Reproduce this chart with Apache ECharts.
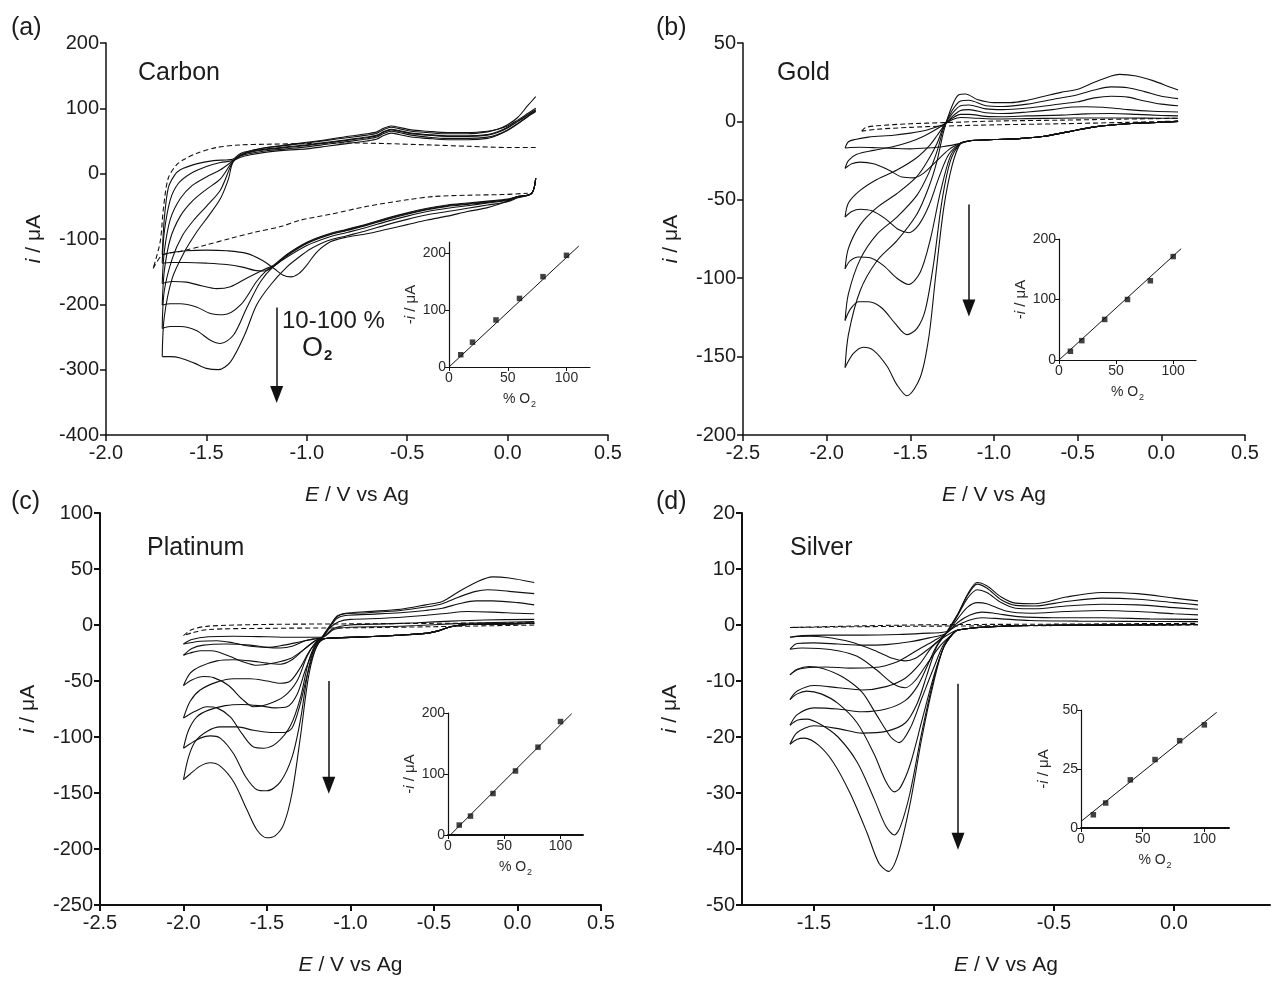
<!DOCTYPE html>
<html>
<head>
<meta charset="utf-8">
<script src="https://cdn.jsdelivr.net/npm/echarts@6.0.0/dist/echarts.min.js"></script>
<style>
  html, body { margin: 0; padding: 0; background: #fff; }
  #chart { width: 1273px; height: 982px; }
</style>
</head>
<body>
<div id="chart"></div>
<script>
// ---- (a) carbon: [E / V, i / uA], scan starts at the right end, vertex = most negative E
var carbonBlank = [[0.14,40],[0.0,40],[-0.2,42],[-0.4,44],[-0.6,46],[-0.8,47],[-1.0,46],[-1.2,45],[-1.33,44],[-1.45,40],[-1.55,31],[-1.61,22],[-1.65,13],[-1.69,-7],[-1.714,-53],[-1.73,-104],[-1.765,-145],
  [-1.72,-125],[-1.63,-119],[-1.5,-109],[-1.38,-99],[-1.25,-89],[-1.13,-81],[-1.03,-71],[-0.88,-62],[-0.7,-50],[-0.5,-40],[-0.37,-35],[-0.2,-33],[-0.03,-32],[0.1,-30]];
var carbon10 = [[0.14,-7],[0.12,-30],[0.05,-36],[0.0,-42],[-0.1,-52],[-0.2,-58],[-0.3,-65],[-0.4,-71],[-0.5,-78],[-0.6,-85],[-0.7,-92],[-0.8,-97],[-0.88,-104],[-0.95,-120],[-1.0,-140],[-1.04,-153],[-1.08,-158],[-1.12,-155],[-1.16,-146],[-1.22,-133],[-1.30,-122],[-1.40,-118],[-1.50,-117],[-1.60,-118],[-1.68,-121],[-1.72,-124],
  [-1.71,-70],[-1.69,-22],[-1.66,-3],[-1.63,6],[-1.55,15],[-1.465,20],[-1.40,21],[-1.37,22],[-1.33,31],[-1.28,35],[-1.2,40],[-1.1,43],[-1.0,47],[-0.9,51],[-0.8,55],[-0.7,59],[-0.65,62],[-0.62,67],[-0.58,71],[-0.54,69],[-0.48,65],[-0.4,63],[-0.3,61],[-0.2,61],[-0.1,64],[-0.05,68],[0.0,75],[0.05,86],[0.1,104],[0.14,118]];
var carbon20 = [[0.14,-7],[0.12,-30],[0.05,-35],[0.0,-40],[-0.1,-44],[-0.2,-47],[-0.3,-50],[-0.4,-55],[-0.5,-62],[-0.6,-70],[-0.7,-79],[-0.8,-87],[-0.9,-95],[-1.0,-107],[-1.1,-126],[-1.16,-141],[-1.21,-149],[-1.26,-148],[-1.32,-143],[-1.40,-139],[-1.50,-137],[-1.60,-136],[-1.68,-136],[-1.72,-137],
  [-1.71,-90],[-1.68,-40],[-1.64,-15],[-1.58,0],[-1.50,11],[-1.43,17],[-1.37,20],[-1.33,29],[-1.28,34],[-1.2,38],[-1.1,41],[-1.0,44],[-0.9,48],[-0.8,52],[-0.7,56],[-0.65,59],[-0.62,64],[-0.58,68],[-0.54,66],[-0.48,62],[-0.4,60],[-0.3,58],[-0.2,58],[-0.1,60],[-0.05,64],[0.0,71],[0.05,80],[0.1,90],[0.14,98]];
var carbon40 = [[0.14,-7],[0.12,-30],[0.05,-35],[0.0,-40],[-0.1,-43],[-0.2,-46],[-0.3,-49],[-0.4,-54],[-0.5,-61],[-0.6,-69],[-0.7,-78],[-0.8,-86],[-0.9,-94],[-1.0,-106],[-1.1,-124],[-1.165,-140],[-1.215,-147],[-1.30,-160],[-1.38,-173],[-1.45,-176],[-1.52,-172],[-1.60,-166],[-1.67,-165],[-1.72,-168],
  [-1.71,-120],[-1.68,-70],[-1.63,-38],[-1.57,-18],[-1.50,-5],[-1.43,6],[-1.37,19],[-1.33,27],[-1.28,31],[-1.2,35],[-1.1,38],[-1.0,41],[-0.9,45],[-0.8,49],[-0.7,53],[-0.65,56],[-0.62,61],[-0.58,65],[-0.54,63],[-0.48,59],[-0.4,56],[-0.3,54],[-0.2,54],[-0.1,56],[-0.05,60],[0.0,67],[0.05,77],[0.1,88],[0.14,96]];
var carbon60 = [[0.14,-7],[0.12,-30],[0.05,-35],[0.0,-39],[-0.1,-42],[-0.2,-45],[-0.3,-48],[-0.4,-53],[-0.5,-60],[-0.6,-68],[-0.7,-77],[-0.8,-85],[-0.9,-93],[-1.0,-105],[-1.1,-124],[-1.15,-138],[-1.20,-148],[-1.25,-165],[-1.33,-201],[-1.415,-216],[-1.48,-214],[-1.55,-204],[-1.63,-199],[-1.68,-199],[-1.72,-201],
  [-1.71,-150],[-1.68,-100],[-1.63,-65],[-1.57,-42],[-1.50,-24],[-1.43,-8],[-1.37,18],[-1.33,25],[-1.28,29],[-1.2,33],[-1.1,36],[-1.0,38],[-0.9,42],[-0.8,46],[-0.7,50],[-0.65,53],[-0.62,58],[-0.58,62],[-0.54,60],[-0.48,56],[-0.4,54],[-0.3,52],[-0.2,52],[-0.1,54],[-0.05,59],[0.0,66],[0.05,76],[0.1,87],[0.14,95]];
var carbon80 = [[0.14,-7],[0.12,-30],[0.05,-36],[0.0,-41],[-0.1,-45],[-0.2,-49],[-0.3,-53],[-0.4,-58],[-0.5,-65],[-0.6,-73],[-0.7,-82],[-0.8,-90],[-0.9,-98],[-1.0,-110],[-1.1,-128],[-1.165,-142],[-1.23,-165],[-1.30,-206],[-1.365,-247],[-1.43,-260],[-1.48,-255],[-1.55,-240],[-1.63,-234],[-1.68,-234],[-1.72,-237],
  [-1.71,-180],[-1.67,-130],[-1.62,-95],[-1.56,-70],[-1.50,-50],[-1.43,-25],[-1.37,17],[-1.33,28],[-1.28,33],[-1.2,37],[-1.1,40],[-1.0,43],[-0.9,47],[-0.8,51],[-0.7,55],[-0.65,58],[-0.62,63],[-0.58,67],[-0.54,65],[-0.48,61],[-0.4,59],[-0.3,57],[-0.2,57],[-0.1,59],[-0.05,63],[0.0,70],[0.05,80],[0.1,90],[0.14,97]];
var carbon100 = [[0.14,-7],[0.12,-30],[0.05,-37],[0.0,-43],[-0.1,-48],[-0.2,-53],[-0.3,-58],[-0.4,-63],[-0.5,-70],[-0.6,-78],[-0.7,-87],[-0.8,-95],[-0.9,-103],[-0.98,-115],[-1.04,-128],[-1.10,-143],[-1.18,-170],[-1.25,-201],[-1.31,-247],[-1.38,-288],[-1.44,-300],[-1.50,-298],[-1.56,-290],[-1.63,-282],[-1.68,-280],[-1.72,-280],
  [-1.71,-220],[-1.67,-160],[-1.61,-120],[-1.55,-90],[-1.49,-65],[-1.43,-38],[-1.39,-8],[-1.37,16],[-1.33,28],[-1.28,35],[-1.2,40],[-1.1,44],[-1.0,48],[-0.9,52],[-0.8,57],[-0.7,61],[-0.65,64],[-0.62,69],[-0.58,73],[-0.54,71],[-0.48,67],[-0.4,65],[-0.3,63],[-0.2,63],[-0.1,65],[-0.05,68],[0.0,73],[0.05,82],[0.1,92],[0.14,100]];

// ---- (b) gold
var goldBase = [[0.1,0],[0.0,-0.5],[-0.2,-1.5],[-0.4,-3.5],[-0.55,-6.5],[-0.7,-9.5],[-0.85,-11],[-1.0,-11.5],[-1.1,-12],[-1.15,-12.5],[-1.2,-14]];
var goldBlank = [[0.1,0.2],[-0.2,-0.6],[-0.6,-1.5],[-1.0,-2.2],[-1.3,-3],[-1.5,-3.8],[-1.7,-5],[-1.79,-6.2],[-1.77,-4],[-1.7,-2.8],[-1.5,-1.5],[-1.3,-0.8],[-1.0,0.2],[-0.6,0.8],[-0.2,1.5],[0.1,2]];
var gold10 = [[-1.3,-16],[-1.4,-17],[-1.5,-17.5],[-1.6,-17.2],[-1.7,-16.8],[-1.8,-16.5],[-1.86,-16.6],[-1.89,-17],
  [-1.87,-13],[-1.83,-11.5],[-1.75,-10],[-1.6,-8.8],[-1.5,-7.5],[-1.4,-5.5],[-1.33,-3],[-1.30,-2],[-1.25,1],[-1.2,2.5],[-1.1,2],[-1.0,1.5],[-0.8,1.8],[-0.6,2],[-0.4,2.2],[-0.2,2.2],[0.0,2],[0.1,2]];
var gold20 = [[-1.27,-18],[-1.35,-26],[-1.42,-33],[-1.48,-36],[-1.55,-35.5],[-1.63,-31],[-1.72,-27],[-1.80,-26],[-1.85,-27],[-1.89,-30],
  [-1.87,-25],[-1.82,-21],[-1.72,-18.5],[-1.6,-16],[-1.5,-13],[-1.42,-9.5],[-1.36,-6],[-1.30,-2],[-1.25,2],[-1.2,4.5],[-1.15,4.5],[-1.05,3.2],[-0.95,3],[-0.8,3.5],[-0.6,4],[-0.45,4.8],[-0.3,5],[-0.15,4.5],[0.0,3.8],[0.1,3.5]];
var gold40 = [[-1.27,-21],[-1.33,-36],[-1.39,-54],[-1.45,-66],[-1.51,-71],[-1.57,-69],[-1.65,-62],[-1.73,-57],[-1.80,-56],[-1.85,-57.5],[-1.89,-61],
  [-1.87,-52],[-1.80,-44],[-1.70,-37],[-1.58,-31],[-1.46,-23],[-1.39,-16],[-1.34,-9],[-1.30,-3],[-1.25,3],[-1.2,7],[-1.15,7.5],[-1.05,5.5],[-0.95,5],[-0.8,6],[-0.65,7.5],[-0.55,9],[-0.45,9.3],[-0.35,9],[-0.2,7.5],[-0.05,6.5],[0.1,6]];
var gold60 = [[-1.26,-22],[-1.32,-45],[-1.38,-75],[-1.44,-96],[-1.51,-104],[-1.58,-100],[-1.66,-92],[-1.74,-87],[-1.81,-86.5],[-1.86,-89],[-1.89,-94],
  [-1.87,-81],[-1.80,-66],[-1.70,-55],[-1.58,-46],[-1.46,-35],[-1.39,-24],[-1.34,-14],[-1.30,-3],[-1.25,5],[-1.2,10],[-1.15,10.5],[-1.05,8],[-0.95,7.5],[-0.8,8.5],[-0.65,10.5],[-0.5,12.5],[-0.4,15],[-0.3,16],[-0.2,15.5],[-0.1,13],[0.0,11],[0.1,10]];
var gold80 = [[-1.26,-25],[-1.31,-50],[-1.36,-90],[-1.41,-120],[-1.46,-132],[-1.52,-136],[-1.59,-129],[-1.67,-119],[-1.75,-115],[-1.81,-115],[-1.86,-120],[-1.89,-127],
  [-1.87,-110],[-1.80,-88],[-1.70,-72],[-1.58,-61],[-1.46,-47],[-1.39,-33],[-1.34,-19],[-1.30,-4],[-1.25,7],[-1.2,13],[-1.15,13.5],[-1.05,10],[-0.95,9.5],[-0.8,11],[-0.65,14],[-0.5,17],[-0.4,20],[-0.3,22],[-0.2,21.5],[-0.1,19],[0.0,16],[0.1,14.5]];
var gold100 = [[-1.25,-28],[-1.30,-55],[-1.35,-100],[-1.39,-138],[-1.44,-163],[-1.52,-175],[-1.58,-168],[-1.64,-156],[-1.72,-146],[-1.78,-144],[-1.84,-148],[-1.89,-157],
  [-1.87,-136],[-1.80,-108],[-1.70,-89],[-1.58,-76],[-1.46,-59],[-1.39,-42],[-1.34,-25],[-1.30,-6],[-1.25,10],[-1.21,17],[-1.17,17.5],[-1.1,14],[-1.0,12],[-0.9,12],[-0.8,13.5],[-0.7,16],[-0.6,18.5],[-0.5,20.5],[-0.4,25],[-0.3,29],[-0.25,30],[-0.15,29],[-0.05,26],[0.05,22],[0.1,20]];

// ---- (c) platinum
var ptBase = [[0.1,1.5],[-0.1,1],[-0.3,0.5],[-0.4,-1.5],[-0.47,-5],[-0.55,-7.5],[-0.7,-9],[-0.9,-10.5],[-1.1,-11.5],[-1.15,-12]];
var ptBlank = [[0.1,0],[-0.5,-1.5],[-1.0,-2.5],[-1.5,-3],[-1.85,-4],[-1.95,-7],[-2.0,-9.5],[-1.95,-4],[-1.85,-1],[-1.5,0.5],[-1.0,1],[-0.5,1.5],[0.1,2]];
var pt10 = [[-1.2,-12],[-1.3,-15],[-1.4,-18],[-1.5,-20],[-1.6,-19],[-1.7,-16],[-1.8,-14],[-1.9,-14.5],[-2.0,-17],
  [-1.95,-13],[-1.85,-10.5],[-1.7,-10],[-1.5,-10.5],[-1.35,-11],[-1.25,-11],[-1.17,-11],[-1.1,-4],[-1.0,-2],[-0.8,-1.5],[-0.6,-0.5],[-0.4,1],[-0.2,2],[0.1,3]];
var pt20 = [[-1.2,-13],[-1.28,-22],[-1.36,-30],[-1.46,-34],[-1.56,-36],[-1.64,-33],[-1.74,-27],[-1.83,-23],[-1.90,-23],[-1.96,-25],[-2.0,-27],
  [-1.95,-21],[-1.88,-18],[-1.75,-17],[-1.6,-18],[-1.5,-20],[-1.42,-20.5],[-1.35,-19],[-1.27,-14],[-1.17,-11],[-1.1,-3],[-1.0,0],[-0.8,1],[-0.6,2],[-0.4,3.5],[-0.2,4.5],[0.1,5]];
var pt40 = [[-1.2,-14],[-1.26,-28],[-1.32,-50],[-1.40,-64],[-1.50,-71],[-1.58,-73],[-1.65,-66],[-1.73,-54],[-1.82,-47],[-1.88,-46],[-1.95,-49],[-2.0,-54],
  [-1.96,-43],[-1.90,-37],[-1.80,-32],[-1.70,-31],[-1.60,-32],[-1.50,-34],[-1.42,-35],[-1.35,-31],[-1.28,-22],[-1.22,-15],[-1.17,-11],[-1.12,-2],[-1.07,3],[-1.0,5],[-0.8,6],[-0.6,8],[-0.45,10],[-0.3,12],[-0.15,11.5],[0.0,10.5],[0.1,10]];
var pt60 = [[-1.2,-15],[-1.25,-32],[-1.3,-65],[-1.36,-90],[-1.44,-105],[-1.52,-110],[-1.58,-109],[-1.65,-97],[-1.72,-82],[-1.80,-74],[-1.86,-73],[-1.93,-77],[-2.0,-83],
  [-1.96,-68],[-1.90,-58],[-1.80,-51],[-1.70,-48],[-1.60,-48],[-1.50,-50],[-1.42,-52],[-1.36,-50],[-1.30,-38],[-1.24,-22],[-1.17,-11],[-1.12,-1],[-1.08,6],[-1.03,8.5],[-0.9,9.5],[-0.7,11],[-0.55,13],[-0.45,15],[-0.35,19],[-0.25,21.5],[-0.15,21.5],[0.0,20],[0.1,18]];
var pt80 = [[-1.2,-16],[-1.25,-38],[-1.3,-85],[-1.35,-118],[-1.42,-140],[-1.5,-148],[-1.56,-147],[-1.63,-135],[-1.70,-115],[-1.78,-101],[-1.84,-99],[-1.90,-101],[-1.96,-106],[-2.0,-110],
  [-1.97,-94],[-1.92,-82],[-1.85,-76],[-1.75,-72],[-1.65,-71],[-1.55,-72],[-1.45,-74],[-1.38,-73],[-1.32,-62],[-1.27,-40],[-1.22,-22],[-1.17,-11],[-1.12,0],[-1.08,7.5],[-1.03,10],[-0.9,11],[-0.7,13],[-0.55,16],[-0.45,19],[-0.35,25],[-0.25,30],[-0.18,31.5],[-0.05,30],[0.1,28]];
var pt100 = [[-1.2,-18],[-1.25,-45],[-1.3,-100],[-1.35,-150],[-1.40,-178],[-1.45,-188],[-1.50,-190],[-1.56,-183],[-1.62,-165],[-1.70,-140],[-1.78,-126],[-1.84,-123],[-1.90,-126],[-1.96,-133],[-2.0,-138],
  [-1.97,-118],[-1.93,-104],[-1.86,-95],[-1.78,-91],[-1.68,-91],[-1.58,-94],[-1.48,-96],[-1.40,-96],[-1.35,-92],[-1.30,-70],[-1.26,-45],[-1.22,-25],[-1.17,-11],[-1.12,0],[-1.08,8],[-1.03,10.5],[-0.9,12],[-0.7,14],[-0.55,18],[-0.45,21],[-0.35,30],[-0.25,38],[-0.15,43],[-0.05,42],[0.1,38]];

// ---- (d) silver
var agBase = [[0.1,0.1],[-0.3,0],[-0.6,-0.1],[-0.8,-0.4],[-0.9,-0.9]];
var agBlank = [[0.1,0],[-0.5,-0.1],[-1.0,-0.2],[-1.3,-0.3],[-1.6,-0.45],[-1.3,-0.15],[-1.0,0.05],[-0.5,0.15],[0.1,0.3]];
var ag10 = [[-0.92,-1.2],[-0.97,-2.5],[-1.03,-4.5],[-1.08,-6],[-1.12,-6.4],[-1.17,-6],[-1.25,-4.5],[-1.35,-3],[-1.45,-2.2],[-1.52,-2],[-1.57,-2.05],[-1.60,-2.2],
  [-1.55,-1.9],[-1.45,-1.8],[-1.30,-1.8],[-1.15,-1.7],[-1.05,-1.5],[-0.95,-1.2],[-0.90,0],[-0.85,0.9],[-0.80,1.3],[-0.72,1.1],[-0.6,0.8],[-0.4,0.7],[-0.2,0.65],[0.1,0.6]];
var ag20 = [[-0.92,-1.5],[-0.97,-3.5],[-1.03,-7],[-1.08,-10],[-1.12,-11.2],[-1.17,-10.5],[-1.24,-8],[-1.32,-5.6],[-1.40,-4.6],[-1.48,-4.2],[-1.55,-4.1],[-1.60,-4.3],
  [-1.57,-3.3],[-1.5,-3.2],[-1.4,-3.4],[-1.3,-3.6],[-1.2,-3.5],[-1.1,-3],[-1.02,-2.3],[-0.95,-1.5],[-0.9,0.5],[-0.85,1.8],[-0.8,2.3],[-0.75,2.1],[-0.65,1.5],[-0.5,1.3],[-0.3,1.3],[-0.1,1.1],[0.1,1.0]];
var ag40 = [[-0.92,-1.5],[-0.96,-3.5],[-1.0,-7.5],[-1.05,-13],[-1.1,-18.5],[-1.145,-21],[-1.18,-20],[-1.24,-16],[-1.3,-12],[-1.38,-9.3],[-1.46,-7.8],[-1.52,-7.4],[-1.57,-7.9],[-1.60,-8.9],
  [-1.57,-8],[-1.52,-7.6],[-1.45,-7.5],[-1.35,-7.7],[-1.25,-7.6],[-1.15,-6.5],[-1.07,-4.5],[-1.0,-2.8],[-0.95,-1.5],[-0.90,1.2],[-0.86,3.2],[-0.82,4],[-0.78,3.8],[-0.70,2.5],[-0.6,2.1],[-0.45,2.4],[-0.3,2.6],[-0.15,2.4],[0.0,2],[0.1,1.8]];
var ag60 = [[-0.92,-1.5],[-0.96,-4],[-1.0,-9],[-1.05,-17],[-1.1,-25],[-1.14,-29],[-1.165,-29.8],[-1.2,-28],[-1.25,-23],[-1.32,-17.5],[-1.40,-14],[-1.47,-12.3],[-1.53,-11.8],[-1.57,-12.3],[-1.60,-13.3],
  [-1.57,-11.8],[-1.50,-10.8],[-1.40,-11.2],[-1.30,-11.6],[-1.20,-11],[-1.12,-9.5],[-1.06,-7],[-1.01,-4],[-0.95,-1.5],[-0.90,1.8],[-0.86,4.8],[-0.82,6.3],[-0.78,5.8],[-0.72,4],[-0.66,3],[-0.58,2.9],[-0.45,3.4],[-0.3,3.7],[-0.15,3.6],[0.0,3.1],[0.1,2.8]];
var ag80 = [[-0.92,-1.5],[-0.96,-4],[-1.0,-9.5],[-1.05,-19],[-1.1,-30],[-1.14,-36],[-1.165,-37.5],[-1.2,-36],[-1.25,-31],[-1.32,-24.5],[-1.40,-20],[-1.47,-17.8],[-1.53,-16.8],[-1.57,-17],[-1.60,-17.9],
  [-1.57,-16],[-1.50,-14.8],[-1.40,-15],[-1.30,-15.5],[-1.20,-15],[-1.12,-13.5],[-1.07,-11],[-1.03,-7.5],[-0.99,-3.8],[-0.95,-1.5],[-0.90,2],[-0.86,5.3],[-0.82,7.3],[-0.78,6.6],[-0.72,4.5],[-0.66,3.5],[-0.58,3.4],[-0.45,4.2],[-0.3,4.8],[-0.15,4.6],[0.0,4],[0.1,3.6]];
var ag100 = [[-0.92,-1.5],[-0.96,-4],[-1.0,-10],[-1.05,-20],[-1.1,-32],[-1.15,-41],[-1.19,-44],[-1.23,-42.5],[-1.28,-37],[-1.35,-30],[-1.42,-24.5],[-1.48,-21.5],[-1.54,-20.2],[-1.57,-20.4],[-1.60,-21.3],
  [-1.57,-19.2],[-1.50,-18],[-1.40,-18.5],[-1.30,-19.3],[-1.20,-19],[-1.12,-17.5],[-1.07,-14],[-1.03,-9],[-0.99,-4],[-0.95,-1.5],[-0.90,2],[-0.86,5.5],[-0.82,7.6],[-0.78,7],[-0.72,5],[-0.66,3.9],[-0.58,3.8],[-0.45,5],[-0.3,5.8],[-0.15,5.6],[0.0,4.8],[0.1,4.3]];

// ---- insets: peak current vs % O2
var o2Pct = [10, 20, 40, 60, 80, 100];
var insetCarbon = [21.6, 43.7, 82.8, 120.7, 159, 196.5];
var insetGold = [14.4, 32, 67, 100, 131, 171];
var insetPt = [16.3, 31, 68, 105, 144, 186];
var insetAg = [5.6, 10.6, 20.4, 29, 37, 43.7];
var fitCarbon = [[0, 0], [110.5, 213]];
var fitGold = [[0, 0], [107, 184]];
var fitPt = [[2, 0], [110, 199]];
var fitAg = [[0, 2.8], [110, 49]];

// arrows: [E, start], [E, end]
var arrowA = [[-1.15, -205], [-1.15, -338]];
var arrowB = [[-1.15, -53], [-1.15, -119]];
var arrowC = [[-1.13, -50], [-1.13, -143]];
var arrowD = [[-0.90, -10.5], [-0.90, -38.6]];

var ink = '#111';
var font = 'Liberation Sans, Arial, Helvetica, sans-serif';

var panels = [
  {blank: carbonBlank, curves: [carbon10, carbon20, carbon40, carbon60, carbon80, carbon100], arrow: arrowA},
  {blank: goldBlank, curves: [goldBase.concat(gold10), goldBase.concat(gold20), goldBase.concat(gold40), goldBase.concat(gold60), goldBase.concat(gold80), goldBase.concat(gold100)], arrow: arrowB},
  {blank: ptBlank, curves: [ptBase.concat(pt10), ptBase.concat(pt20), ptBase.concat(pt40), ptBase.concat(pt60), ptBase.concat(pt80), ptBase.concat(pt100)], arrow: arrowC},
  {blank: agBlank, curves: [agBase.concat(ag10), agBase.concat(ag20), agBase.concat(ag40), agBase.concat(ag60), agBase.concat(ag80), agBase.concat(ag100)], arrow: arrowD}
];
var insets = [
  {y: insetCarbon, fit: fitCarbon, max: 220, ticks: [0, 100, 200]},
  {y: insetGold, fit: fitGold, max: 200, ticks: [0, 100, 200]},
  {y: insetPt, fit: fitPt, max: 200, ticks: [0, 100, 200]},
  {y: insetAg, fit: fitAg, max: 50, ticks: [0, 25, 50]}
];

// split a CV at its vertex so the turning point stays sharp
function cvSeries(idx, pts, dashed) {
  var k = 0;
  for (var j = 1; j < pts.length; j++) if (pts[j][0] < pts[k][0]) k = j;
  return [pts.slice(0, k + 1), pts.slice(k)].map(function (p) {
    return {
      type: 'line', xAxisIndex: idx, yAxisIndex: idx, data: p,
      symbol: 'none', smooth: 0.3, silent: true, animation: false,
      lineStyle: {color: ink, width: 1.1, type: dashed ? [5, 3] : 'solid'}
    };
  });
}

var grids = [
  {left: 106, top: 43, width: 502, height: 392},
  {left: 743, top: 43, width: 502, height: 392},
  {left: 100, top: 513, width: 501, height: 392},
  {left: 742, top: 513, width: 528, height: 392},
  {left: 449, top: 242, width: 141, height: 125},
  {left: 1059, top: 239, width: 137, height: 121},
  {left: 448, top: 713, width: 135, height: 122},
  {left: 1081, top: 710, width: 148, height: 118}
].map(function (g) { g.outerBoundsMode = 'none'; g.containLabel = false; return g; });

var mainX = [
  {min: -2.0, max: 0.5, interval: 0.5},
  {min: -2.5, max: 0.5, interval: 0.5},
  {min: -2.5, max: 0.5, interval: 0.5},
  {min: -1.8, max: 0.4, ticks: [-1.5, -1.0, -0.5, 0.0]}
];
var mainY = [
  {min: -400, max: 200, interval: 100},
  {min: -200, max: 50, interval: 50},
  {min: -250, max: 100, interval: 50},
  {min: -50, max: 20, interval: 10}
];
var axisW = [1.5, 1.5, 2, 2];

var xAxes = [], yAxes = [], series = [];

mainX.forEach(function (a, i) {
  var ax = {
    gridIndex: i, type: 'value', min: a.min, max: a.max,
    axisLine: {onZero: false, lineStyle: {color: ink, width: axisW[i]}},
    axisTick: {length: 6, lineStyle: {color: ink, width: axisW[i]}},
    axisLabel: {fontSize: 20, color: '#1c1c1c', fontFamily: font, margin: 8, formatter: function (v) { return v.toFixed(1); }},
    splitLine: {show: false},
    name: '{v|E} / V vs Ag', nameLocation: 'middle', nameGap: 50,
    nameTextStyle: {fontSize: 21, color: '#1c1c1c', fontFamily: font, rich: {v: {fontSize: 21, fontStyle: 'italic', color: '#1c1c1c', fontFamily: font}}}
  };
  if (a.ticks) {
    ax.axisTick.customValues = a.ticks;
    ax.axisLabel.customValues = a.ticks;
  } else {
    ax.interval = a.interval;
  }
  xAxes.push(ax);
});
mainY.forEach(function (a, i) {
  yAxes.push({
    gridIndex: i, type: 'value', min: a.min, max: a.max, interval: a.interval,
    axisLine: {onZero: false, lineStyle: {color: ink, width: axisW[i]}},
    axisTick: {length: 6, lineStyle: {color: ink, width: axisW[i]}},
    axisLabel: {fontSize: 20, color: '#1c1c1c', fontFamily: font, margin: 7},
    splitLine: {show: false},
    name: '{v|i} / μA', nameLocation: 'middle', nameRotate: 90, nameGap: 61,
    nameTextStyle: {fontSize: 21, color: '#1c1c1c', fontFamily: font, rich: {v: {fontSize: 21, fontStyle: 'italic', color: '#1c1c1c', fontFamily: font}}}
  });
});
insets.forEach(function (s, i) {
  var gi = i + 4;
  xAxes.push({
    gridIndex: gi, type: 'value', min: 0, max: 120,
    axisLine: {onZero: false, lineStyle: {color: ink, width: i >= 2 ? 2 : 1.2}},
    axisTick: {length: 4, customValues: [0, 50, 100], lineStyle: {color: ink}},
    axisLabel: {fontSize: 14, color: '#2a2a2a', fontFamily: font, margin: 4, customValues: [0, 50, 100]},
    splitLine: {show: false},
    name: '% O{s|2}', nameLocation: 'middle', nameGap: 23,
    nameTextStyle: {fontSize: 14, color: '#2a2a2a', fontFamily: font, rich: {s: {fontSize: 9, color: '#2a2a2a', fontFamily: font, padding: [10, 0, 0, 1]}}}
  });
  yAxes.push({
    gridIndex: gi, type: 'value', min: 0, max: s.max,
    axisLine: {onZero: false, lineStyle: {color: ink, width: 1.2}},
    axisTick: {length: 4, customValues: s.ticks, lineStyle: {color: ink}},
    axisLabel: {fontSize: 14, color: '#2a2a2a', fontFamily: font, margin: 3, customValues: s.ticks},
    splitLine: {show: false},
    name: '-{v|i} / μA', nameLocation: 'middle', nameRotate: 90, nameGap: 30,
    nameTextStyle: {fontSize: 15, color: '#2a2a2a', fontFamily: font, rich: {v: {fontSize: 15, fontStyle: 'italic', color: '#2a2a2a', fontFamily: font}}}
  });
  series.push({
    type: 'line', xAxisIndex: gi, yAxisIndex: gi, data: s.fit, symbol: 'none',
    silent: true, animation: false, lineStyle: {color: ink, width: 1}
  });
  series.push({
    type: 'scatter', xAxisIndex: gi, yAxisIndex: gi, symbol: 'rect', symbolSize: 5.5,
    data: o2Pct.map(function (x, k) { return [x, s.y[k]]; }),
    itemStyle: {color: ink}, silent: true, animation: false
  });
});

panels.forEach(function (p, i) {
  var blank = cvSeries(i, p.blank, true);
  blank[0].markLine = {
    silent: true, animation: false, symbol: ['none', 'triangle'], symbolSize: [13, 17],
    label: {show: false}, lineStyle: {color: ink, width: 1.5, type: 'solid'},
    data: [[{coord: p.arrow[0]}, {coord: p.arrow[1]}]]
  };
  series = series.concat(blank);
  p.curves.forEach(function (c) { series = series.concat(cvSeries(i, c, false)); });
});

function label(x, y, text, size, extra) {
  var st = {text: text, fontSize: size, fontFamily: font, fill: '#1c1c1c', verticalAlign: 'middle'};
  if (extra) for (var k in extra) st[k] = extra[k];
  return {type: 'text', x: x, y: y, silent: true, style: st};
}

var chart = echarts.init(document.getElementById('chart'), null, {renderer: 'canvas'});
chart.setOption({
  backgroundColor: '#fff',
  animation: false,
  textStyle: {fontFamily: font},
  grid: grids,
  xAxis: xAxes,
  yAxis: yAxes,
  series: series,
  graphic: [
    label(11, 28, '(a)', 25), label(656, 28, '(b)', 25),
    label(11, 502, '(c)', 25), label(656, 502, '(d)', 25),
    label(138, 73, 'Carbon', 25), label(777, 73, 'Gold', 25),
    label(147, 548, 'Platinum', 25), label(790, 548, 'Silver', 25),
    label(282, 321, '10-100 %', 24),
    label(302, 349, '{o|O}{s|2}', 27, {rich: {o: {fontSize: 27, fontFamily: font, fill: '#1c1c1c'}, s: {fontSize: 15, fontWeight: 'bold', fontFamily: font, fill: '#1c1c1c', padding: [14, 0, 0, 1]}}})
  ]
});
</script>
</body>
</html>
